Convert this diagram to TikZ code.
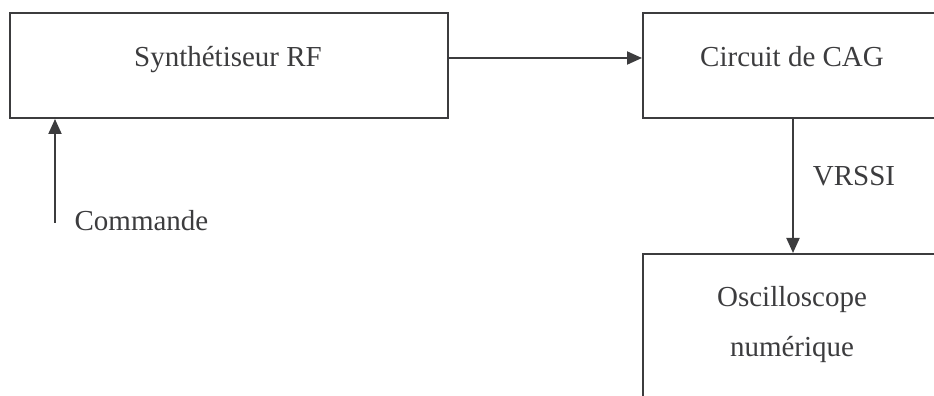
\documentclass[tikz,border=0pt]{standalone}
\usepackage{fontspec}
\setmainfont{Liberation Serif}
\usetikzlibrary{arrows.meta, positioning, calc}
\definecolor{inkgray}{RGB}{60,60,62}

\begin{document}
\begin{tikzpicture}[x=1pt, y=1pt,
        box/.style={draw=inkgray, line width=2pt, inner sep=0pt, anchor=north west},
        lbl/.style={text=inkgray, font=\fontsize{29}{50}\selectfont, anchor=base, inner sep=0pt},
        arr/.style={-{Triangle[length=15pt, width=13pt]}, draw=inkgray, line width=2pt}
      ]
        \useasboundingbox (0,0) rectangle (934,396);
        \clip (0,0) rectangle (934,396);

        \node[box, minimum width=438pt, minimum height=105pt] (synth) at (9,384) {};
        \node[box, minimum width=300pt, minimum height=105pt] (cag) at (642,384) {};
        \node[box, minimum width=300pt, minimum height=200pt] (osc) at (642,143) {};

        \node[lbl] (synthtxt) at (228,329) {Synthétiseur RF};
        \node[lbl] (cagtxt) at (792,329) {Circuit de CAG};
        \node[lbl] (cmdtxt) at (141.5,165) {Commande};
        \node[lbl] (vrssi) at (854,210) {VRSSI};
        \node[lbl, align=center] (osctxt) at (792,39) {Oscilloscope\\numérique};

        \coordinate (cmd) at (55,173);

        \draw[arr] ([yshift=7.5pt]synth.east) -- ([yshift=7.5pt]cag.west);
        \draw[arr] (cmd) -- (cmd |- synth.south);
        \draw[arr] (cag.south) -- (osc.north);
      \end{tikzpicture}
\end{document}
